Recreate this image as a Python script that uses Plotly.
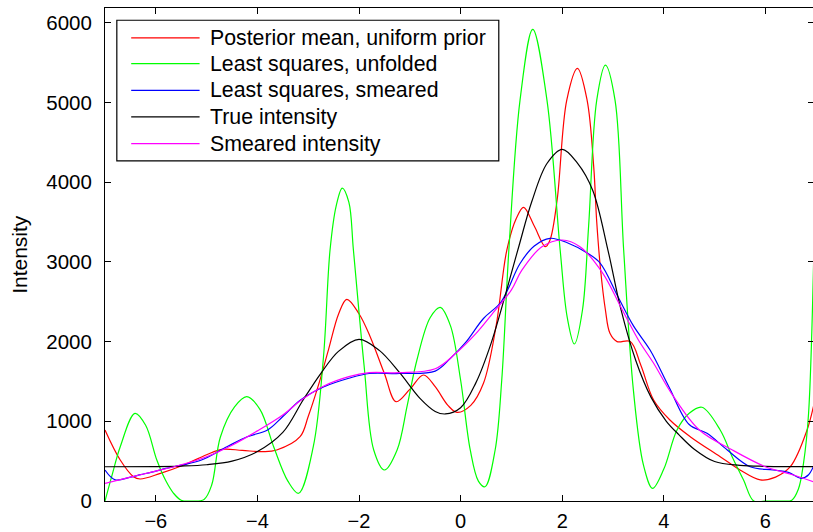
import plotly.graph_objects as go

# ---------------- data ----------------
true_x = [-7, -6, -5.5, -5, -4.5, -4, -3.5, -3.1, -2.75, -2.4, -2, -1.6, -1.2, -0.8, -0.5, -0.3, 0,
          0.3, 0.6, 0.9, 1.15, 1.4, 1.7, 2.0, 2.3, 2.6, 2.9, 3.15, 3.45, 3.75, 4.05, 4.3, 4.6, 5.0, 5.5, 6, 7]
true_y = [430, 432, 438, 455, 500, 620, 860, 1267, 1602, 1880, 2029, 1890, 1610, 1288, 1124, 1092, 1170,
          1482, 1978, 2630, 3203, 3755, 4235, 4413, 4240, 3900, 3149, 2420, 1760, 1300, 1000, 830, 650, 495, 448, 435, 430]

smear_x = [-7, -6.5, -6, -5.5, -5, -4.5, -4, -3.5, -3.15, -2.7, -2.2, -1.8, -1.2, -0.5, -0.1, 0.3, 0.6,
           1.0, 1.2, 1.6, 2.0, 2.35, 2.8, 3.15, 3.5, 3.8, 4.15, 4.7, 5.35, 6.0, 6.5, 7]
smear_y = [222, 300, 375, 455, 556, 700, 880, 1080, 1260, 1440, 1560, 1610, 1610, 1660, 1850, 2100, 2330,
           2650, 2890, 3190, 3275, 3191, 2857, 2438, 2020, 1728, 1351, 891, 640, 430, 335, 230]

lss_x = [-7, -6.8, -6.5, -6.3, -6, -5.8, -5.5, -5.1, -4.6, -4.2, -3.8, -3.5, -3.15, -2.7, -2.2, -1.8, -1.2,
         -0.5, -0.2, 0.1, 0.45, 0.8, 1.17, 1.45, 1.76, 2.1, 2.5, 2.75, 3.1, 3.4, 3.73, 4.1, 4.5, 4.85, 5.25,
         5.7, 6.15, 6.45, 6.7, 6.85, 7]
lss_y = [389, 265, 300, 330, 375, 410, 450, 514, 681, 807, 891, 1060, 1267, 1430, 1540, 1600, 1600,
         1630, 1790, 1990, 2290, 2500, 2980, 3200, 3296, 3240, 3108, 2982, 2560, 2200, 1894, 1434, 960, 849, 640,
         430, 389, 360, 285, 330, 520]

post_x = [-7, -6.7, -6.44, -6.31, -5.91, -5.45, -5.0, -4.7, -4.3, -3.88, -3.62, -3.16, -3.0, -2.8, -2.6,
          -2.4, -2.24, -2.0, -1.78, -1.5, -1.27, -1.0, -0.73, -0.5, -0.25, -0.07, 0.2, 0.45, 0.7, 0.91, 1.1,
          1.24, 1.45, 1.67, 1.76, 1.9, 2.09, 2.3, 2.49, 2.62, 2.68, 2.75, 2.85, 2.94, 3.08, 3.34, 3.55, 3.8,
          4.12, 4.52, 5.11, 5.5, 5.9, 6.2, 6.49, 6.82, 7]
post_y = [891, 514, 305, 276, 347, 452, 580, 648, 635, 619, 640, 807, 1060, 1450, 1900,
          2350, 2531, 2350, 2062, 1600, 1246, 1400, 1581, 1434, 1200, 1113, 1200, 1477, 2200, 3149, 3550,
          3685, 3450, 3191, 3275, 3777, 5031, 5429, 5031, 4195, 3500, 2940, 2400, 2104, 2000, 2000, 1700, 1267,
          1016, 807, 556, 390, 265, 300, 430, 891, 1350]

lsu_x = [-7, -6.85, -6.7, -6.41, -6.2, -5.98, -5.8, -5.65, -5.5, -5.3, -5.05, -4.9, -4.73, -4.45, -4.21,
         -3.95, -3.68, -3.4, -3.19, -2.9, -2.7, -2.57, -2.45, -2.33, -2.2, -2.11, -1.9, -1.71, -1.5, -1.25,
         -1.05, -0.86, -0.6, -0.4, -0.2, 0.0, 0.19, 0.35, 0.48, 0.68, 0.81, 0.95, 1.17, 1.42, 1.70, 1.96,
         2.1, 2.24, 2.4, 2.52, 2.68, 2.85, 3.04, 3.21, 3.40, 3.6, 3.78, 4.0, 4.26, 4.5, 4.75, 5.11, 5.35,
         5.57, 5.77, 6.0, 6.3, 6.52, 6.65, 6.75, 6.85, 7]
lsu_y = [0, 350, 681, 1100, 950, 514, 250, 97, 10, 0, 20, 200, 800, 1180, 1309,
         1150, 681, 250, 97, 681, 1800, 3149, 3700, 3927, 3750, 3149, 1700, 640, 389, 640,
         1200, 1769, 2300, 2430, 2200, 1518, 640, 250, 179, 640, 1518, 3149, 5031, 5918, 5031, 3149,
         2300, 1970, 2400, 3450, 5031, 5470, 5031, 3149, 1400, 450, 159, 400, 891, 1100, 1176, 891, 550,
         263, 0, 0, 0, 10, 150, 473, 1100, 4600]

series = [
    ("Posterior mean, uniform prior", post_x, post_y, "#ff0000"),
    ("Least squares, unfolded", lsu_x, lsu_y, "#00ff00"),
    ("Least squares, smeared", lss_x, lss_y, "#0000ff"),
    ("True intensity", true_x, true_y, "#000000"),
    ("Smeared intensity", smear_x, smear_y, "#ff00ff"),
]

x_ticks = [-6, -4, -2, 0, 2, 4, 6]
y_ticks = [0, 1000, 2000, 3000, 4000, 5000, 6000]
x_range = [-7, 6.937]
y_range = [0, 6186]

FONT = "Liberation Sans, Arial, Helvetica, sans-serif"

fig = go.Figure()
for name, xs, ys, col in series:
    fig.add_trace(go.Scatter(x=xs, y=ys, mode="lines", name=name,
                             line=dict(color=col, width=1.2, shape="spline", smoothing=1.0),
                             showlegend=False))
# helper trace so that the right-hand tick axis is drawn
fig.add_trace(go.Scatter(x=[None], y=[None], yaxis="y2", showlegend=False, hoverinfo="skip"))

fig.update_layout(
    width=813, height=532,
    margin=dict(l=105, r=0, t=8, b=31, autoexpand=False),
    paper_bgcolor="white", plot_bgcolor="white",
    font=dict(family=FONT, size=20, color="black"),
    xaxis=dict(range=x_range, tickvals=x_ticks, ticks="inside", ticklen=6, tickwidth=1,
               tickcolor="black", showline=True, linecolor="black", linewidth=1, mirror="ticks",
               showgrid=False, zeroline=False, ticklabelstandoff=2, automargin=False,
               tickfont=dict(size=20, family=FONT)),
    yaxis=dict(range=y_range, tickvals=y_ticks, ticks="inside", ticklen=6, tickwidth=1,
               tickcolor="black", showline=True, linecolor="black", linewidth=1, mirror=False,
               showgrid=False, zeroline=False, ticklabelstandoff=8, automargin=False,
               tickfont=dict(size=20.5, family=FONT)),
    yaxis2=dict(range=y_range, tickvals=y_ticks, ticks="inside", ticklen=5, tickwidth=1,
                tickcolor="black", showline=False, showticklabels=False, showgrid=False,
                zeroline=False, overlaying="y", side="right", automargin=False),
    showlegend=False,
)

# y-axis title
fig.add_annotation(text="Intensity", textangle=-90, xref="paper", yref="paper",
                   x=-0.121, y=0.5, xanchor="center", yanchor="middle", showarrow=False,
                   font=dict(size=21, family=FONT, color="black"))

# legend box drawn in paper coordinates
fig.add_shape(type="rect", xref="paper", yref="paper", x0=0.0167, x1=0.5562, y0=0.6898, y1=0.9752,
              line=dict(color="black", width=1.2), fillcolor="white", layer="above")
row_y = [0.9395, 0.8873, 0.8331, 0.7791, 0.7249]
for (name, _, _, col), ry in zip(series, row_y):
    fig.add_shape(type="line", xref="paper", yref="paper", x0=0.0370, x1=0.1336, y0=ry, y1=ry,
                  line=dict(color=col, width=1.2), layer="above")
    fig.add_annotation(text=name, xref="paper", yref="paper", x=0.1449, y=ry, xanchor="left",
                       yanchor="middle", showarrow=False, font=dict(size=21.3, family=FONT, color="black"))

fig.write_html("out.html")
